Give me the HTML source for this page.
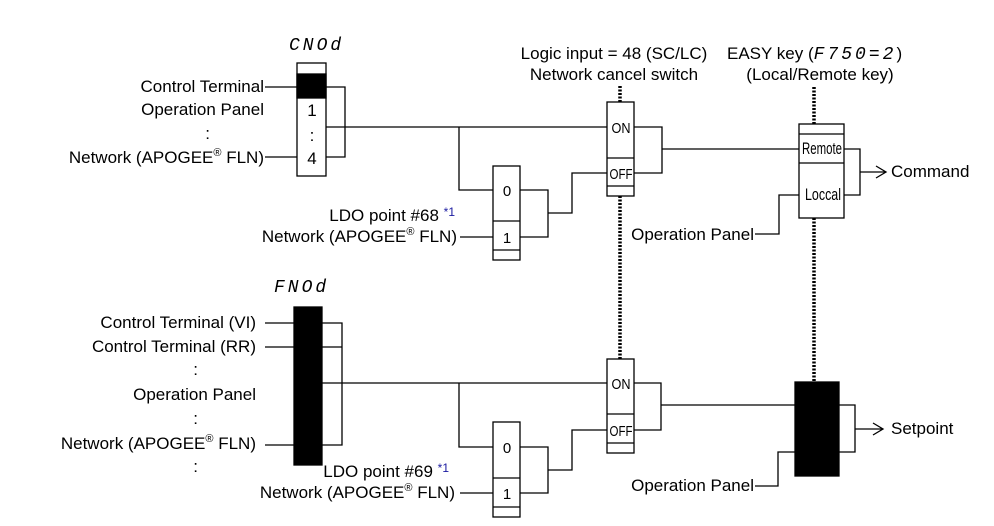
<!DOCTYPE html>
<html><head><meta charset="utf-8"><style>
body{margin:0;background:#fff}
svg{display:block}
text{font-family:"Liberation Sans",sans-serif;font-size:17px;fill:#000}
.s{font-size:15px}
.seg{font-family:"Liberation Mono",monospace;font-style:italic;font-size:18px;letter-spacing:3px}
.sup{font-size:11px}
.b{fill:#1a1aa0;font-size:12px}
</style></head><body>
<svg width="994" height="526" viewBox="0 0 994 526" xmlns="http://www.w3.org/2000/svg">
<g fill="none" stroke="#000" stroke-width="1.3">
<rect x="297" y="63" width="29" height="113" fill="#fff"/>
<rect x="297" y="74" width="29" height="24" fill="#000"/>
<path d="M265 87H297M265 157H297M326 87H345V157H326M326 127H607M459 127V190H493"/>
<rect x="493" y="166" width="27" height="94"/><path d="M493 221H520M493 250H520"/>
<path d="M520 190H548V237H520M548 213H572V173H607"/>
<path d="M460 237H493"/>
<rect x="607" y="102" width="27" height="94" fill="#fff"/><path d="M607 158H634M607 186H634"/>
<path d="M634 127H662V173H634M662 149H799"/>
<rect x="799" y="124" width="45" height="94" fill="#fff"/><path d="M799 134H844M799 163H844"/>
<path d="M844 149H860V195H844M860 172H885M876 166L886 172L876 178M755 234H779V195H799"/>
<rect x="294" y="307" width="28" height="158" fill="#000"/>
<path d="M265 323H294M265 347H294M265 445H294M322 323H342V445H322M322 347H342M322 383H607M459 383V447H493M460 493H493"/>
<rect x="493" y="422" width="27" height="95"/><path d="M493 478H520M493 507H520"/>
<path d="M520 447H548V493H520M548 470H572V430H607"/>
<rect x="607" y="359" width="27" height="94" fill="#fff"/><path d="M607 414H634M607 443H634"/>
<path d="M634 383H661V430H634M661 405H795"/>
<rect x="795" y="382" width="44" height="94" fill="#000"/>
<path d="M839 405H855V452H839M855 429H882M873 423L883 429L873 435M755 486H778V452H795"/>
</g>
<g stroke="#000" stroke-width="3.5" stroke-dasharray="2,1.5" fill="none">
<path d="M620 86V102M620 196V359M814 87V124M814 218V382"/>
</g>
<text class="seg" x="289" y="50">CNOd</text>
<text class="seg" x="274" y="292">FNOd</text>
<g text-anchor="end">
<text x="264" y="92">Control Terminal</text>
<text x="264" y="115">Operation Panel</text>
<text x="210" y="139">:</text>
<text x="264" y="163">Network (APOGEE<tspan class="sup" dy="-7">®</tspan><tspan dy="7"> FLN)</tspan></text>
<text x="455" y="221" font-size="15.5">LDO point #68 <tspan class="b" dy="-5">*1</tspan></text>
<text x="457" y="242">Network (APOGEE<tspan class="sup" dy="-7">®</tspan><tspan dy="7"> FLN)</tspan></text>
<text x="256" y="328">Control Terminal (VI)</text>
<text x="256" y="352">Control Terminal (RR)</text>
<text x="198" y="375">:</text>
<text x="256" y="400">Operation Panel</text>
<text x="198" y="424">:</text>
<text x="256" y="449">Network (APOGEE<tspan class="sup" dy="-7">®</tspan><tspan dy="7"> FLN)</tspan></text>
<text x="198" y="472">:</text>
<text x="449" y="477" font-size="15.5">LDO point #69 <tspan class="b" dy="-5">*1</tspan></text>
<text x="455" y="498">Network (APOGEE<tspan class="sup" dy="-7">®</tspan><tspan dy="7"> FLN)</tspan></text>
<text x="754" y="240">Operation Panel</text>
<text x="754" y="491">Operation Panel</text>
</g>
<g text-anchor="middle">
<text x="312" y="116">1</text><text x="312" y="141">:</text><text x="312" y="164">4</text>
<text x="507" y="196" class="s">0</text><text x="507" y="243" class="s">1</text>
<text x="507" y="453" class="s">0</text><text x="507" y="499" class="s">1</text>
<text x="621" y="133" class="s" textLength="19" lengthAdjust="spacingAndGlyphs">ON</text>
<text x="621" y="179" class="s" textLength="23" lengthAdjust="spacingAndGlyphs">OFF</text>
<text x="621" y="389" class="s" textLength="19" lengthAdjust="spacingAndGlyphs">ON</text>
<text x="621" y="436" class="s" textLength="23" lengthAdjust="spacingAndGlyphs">OFF</text>
<text x="822" y="154" font-size="13" textLength="40" lengthAdjust="spacingAndGlyphs">Remote</text>
<text x="823" y="200" font-size="14" textLength="36" lengthAdjust="spacingAndGlyphs">Loccal</text>
<text x="614" y="59">Logic input = 48 (SC/LC)</text>
<text x="614" y="80">Network cancel switch</text>
<text x="820" y="80">(Local/Remote key)</text>
</g>
<text x="727" y="59">EASY key (<tspan class="seg" font-size="17" letter-spacing="1">F750=2</tspan>)</text>
<text x="891" y="177">Command</text>
<text x="891" y="434">Setpoint</text>
</svg>
</body></html>
